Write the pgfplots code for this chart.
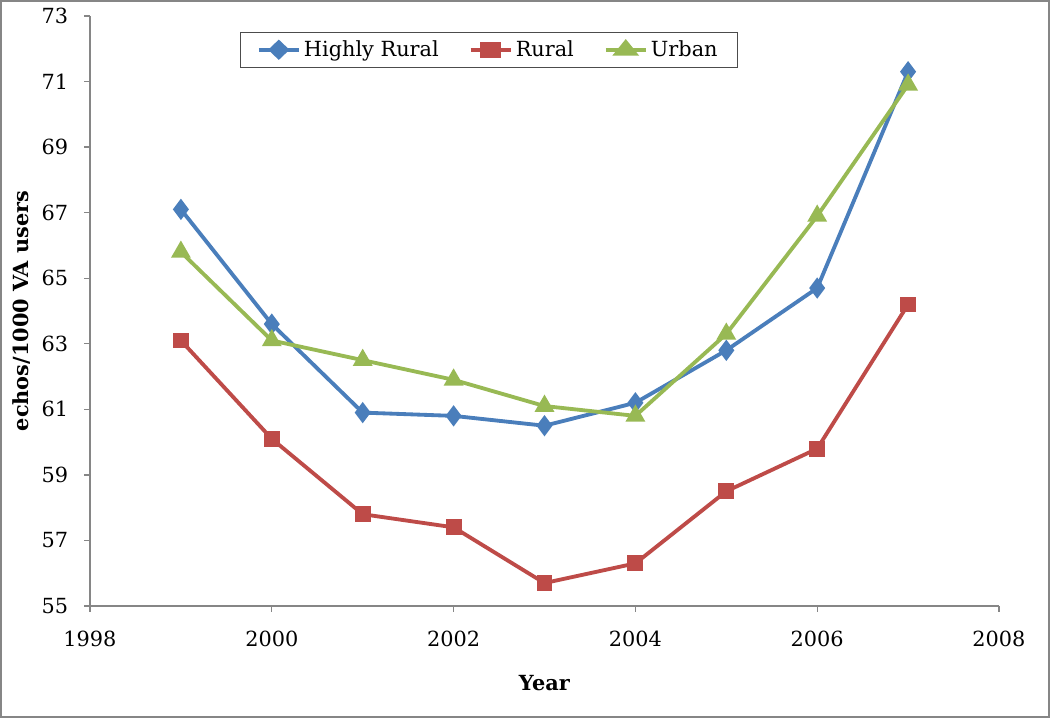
\documentclass[border=0pt]{standalone}
\usepackage{pgfplots}
\pgfplotsset{compat=1.18}
\usepackage{fontspec}
\setmainfont{DejaVu Serif}

\definecolor{hrblue}{RGB}{74,126,187}
\definecolor{rred}{RGB}{190,75,72}
\definecolor{ugreen}{RGB}{152,185,84}
\definecolor{axgray}{RGB}{134,134,134}

\begin{document}
\begin{tikzpicture}
\begin{axis}[
scale only axis,
width=545.4pt, height=354pt,
xmin=1998, xmax=2008, ymin=55, ymax=73,
xtick={1998,2000,...,2008},
ytick={55,57,...,73},
axis x line*=bottom, axis y line*=left,
axis line style={draw=axgray, line width=0.8pt},
tick style={draw=axgray, line width=0.8pt},
tick align=outside,
major tick length=3.6pt,
/pgf/number format/assume math mode=true,
/pgf/number format/set thousands separator={},
ticklabel style={font=\fontsize{12.5}{14}\selectfont},
yticklabel style={xshift=-6pt},
xticklabel style={yshift=-8pt},
xlabel={\textbf{Year}},
ylabel={\textbf{echos/1000 VA users}},
label style={font=\fontsize{12.5}{14}\selectfont},
xlabel style={yshift=-10pt},
ylabel style={yshift=0pt},
legend columns=3,
legend style={at={(0.165,0.973)}, anchor=north west, draw=black!70,
  font=\fontsize{12.5}{14}\selectfont, /tikz/every even column/.append style={column sep=16pt},
  inner xsep=10pt, inner ysep=3pt},
legend image post style={xscale=1.4},
]
\addplot [hrblue, line width=2.3pt, mark=diamond*, mark size=4.5pt, mark options={solid, fill=hrblue}]
coordinates {(1999,67.1) (2000,63.6) (2001,60.9) (2002,60.8) (2003,60.5) (2004,61.2) (2005,62.8) (2006,64.7) (2007,71.3)};
\addlegendentry{Highly Rural}
\addplot [rred, line width=2.3pt, mark=square*, mark size=3.6pt, mark options={solid, fill=rred}]
coordinates {(1999,63.1) (2000,60.1) (2001,57.8) (2002,57.4) (2003,55.7) (2004,56.3) (2005,58.5) (2006,59.8) (2007,64.2)};
\addlegendentry{Rural}
\addplot [ugreen, line width=2.3pt, mark=triangle*, mark size=4.6pt, mark options={solid, fill=ugreen}]
coordinates {(1999,65.8) (2000,63.1) (2001,62.5) (2002,61.9) (2003,61.1) (2004,60.8) (2005,63.3) (2006,66.9) (2007,70.9)};
\addlegendentry{Urban}
\end{axis}
\draw[axgray, line width=1.2pt] ([xshift=-53.4pt,yshift=-66.6pt]current axis.south west) rectangle ([xshift=30pt,yshift=9pt]current axis.north east);
\end{tikzpicture}
\end{document}
